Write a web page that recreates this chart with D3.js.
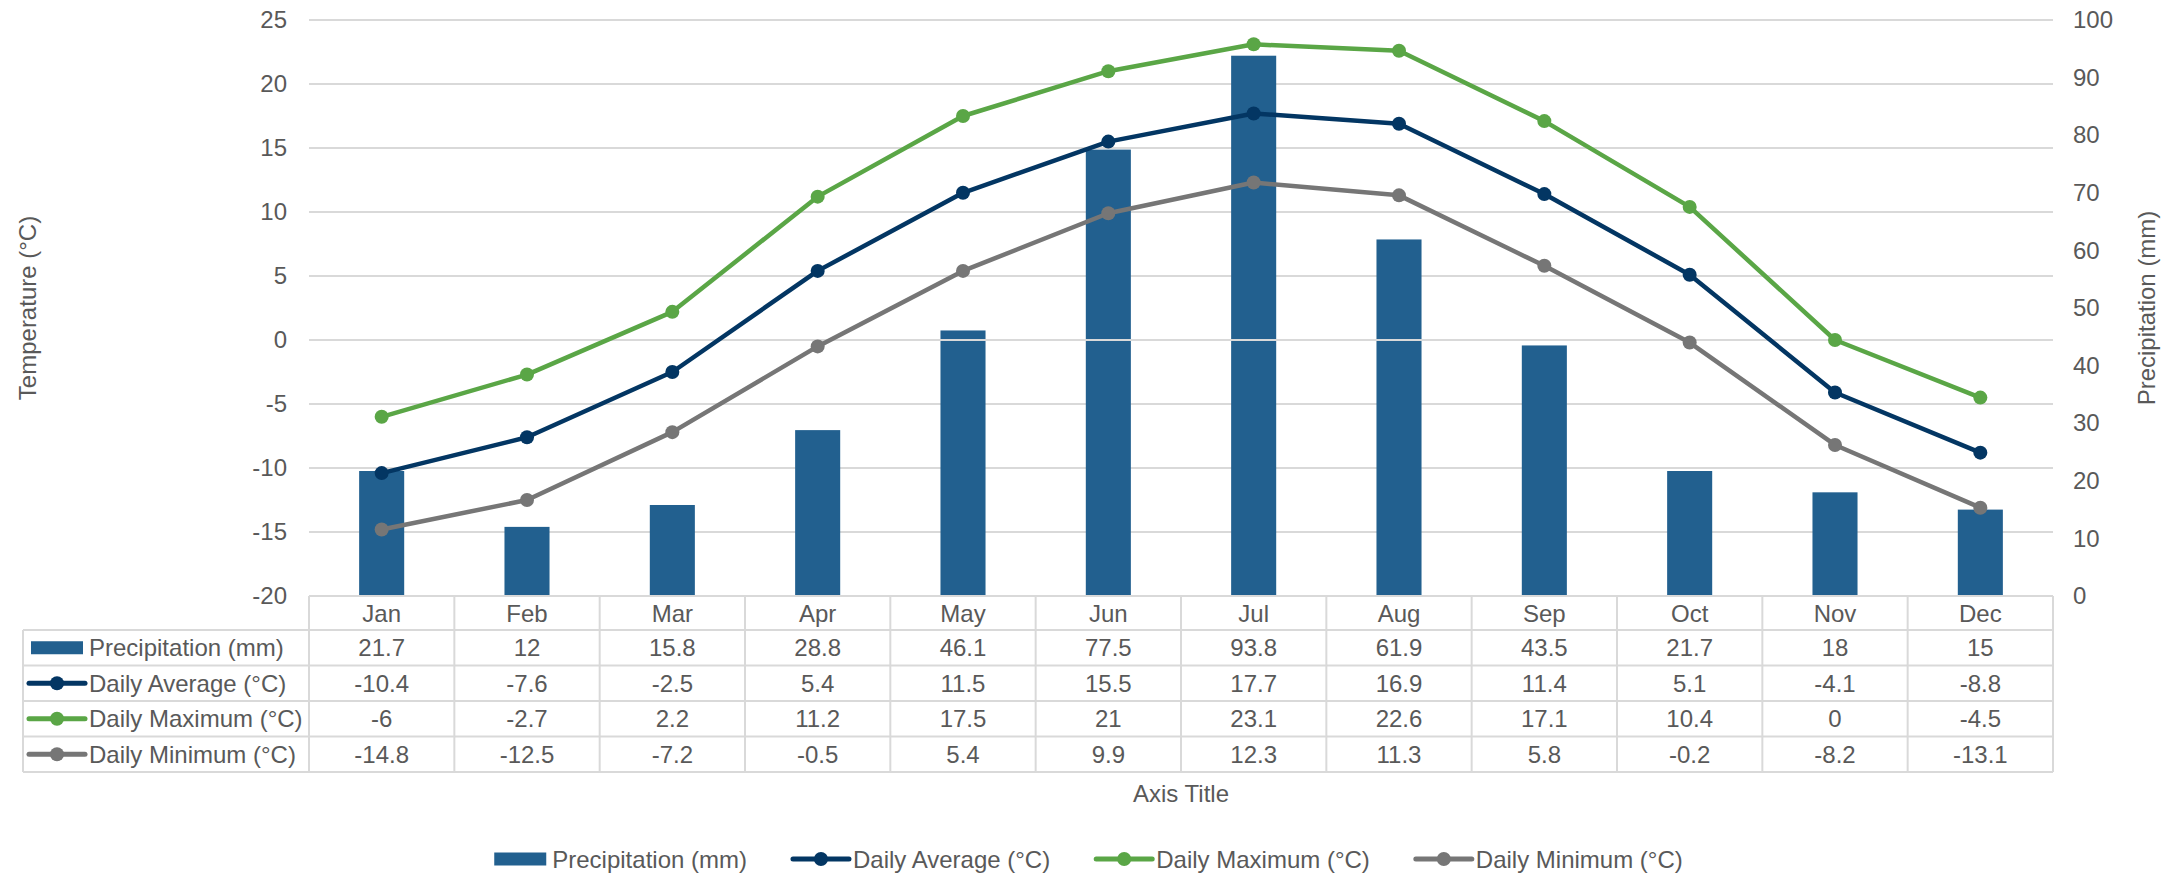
<!DOCTYPE html>
<html>
<head>
<meta charset="utf-8">
<script src="https://cdn.jsdelivr.net/npm/d3@7/dist/d3.min.js"></script>
<style>
  html, body { margin: 0; padding: 0; background: #ffffff; }
  svg { display: block; font-family: "Liberation Sans", Arial, sans-serif; }
</style>
</head>
<body>
<svg id="chart" width="2175" height="876"></svg>
<script>
// Monthly climate data
const months = ["Jan", "Feb", "Mar", "Apr", "May", "Jun", "Jul", "Aug", "Sep", "Oct", "Nov", "Dec"];
const precipitation = [21.7, 12, 15.8, 28.8, 46.1, 77.5, 93.8, 61.9, 43.5, 21.7, 18, 15];
const dailyAverage = [-10.4, -7.6, -2.5, 5.4, 11.5, 15.5, 17.7, 16.9, 11.4, 5.1, -4.1, -8.8];
const dailyMaximum = [-6, -2.7, 2.2, 11.2, 17.5, 21, 23.1, 22.6, 17.1, 10.4, 0, -4.5];
const dailyMinimum = [-14.8, -12.5, -7.2, -0.5, 5.4, 9.9, 12.3, 11.3, 5.8, -0.2, -8.2, -13.1];
const tempTicks = [-20, -15, -10, -5, 0, 5, 10, 15, 20, 25];
const precTicks = [0, 10, 20, 30, 40, 50, 60, 70, 80, 90, 100];

const seriesInfo = [
  { name: "Precipitation (mm)", type: "bar", color: "#22608f", values: precipitation },
  { name: "Daily Average (°C)", type: "line", color: "#033663", values: dailyAverage },
  { name: "Daily Maximum (°C)", type: "line", color: "#5aa646", values: dailyMaximum },
  { name: "Daily Minimum (°C)", type: "line", color: "#767676", values: dailyMinimum }
];

const TEXT = "#595959";
const GRID = "#d9d9d9";
const FS = 24;
const plain = d => String(d); // hyphen-minus, as in the table

const svg = d3.select("#chart");
const plot = { left: 309, right: 2053, top: 20, bottom: 596 };

const x = d3.scaleBand().domain(months).range([plot.left, plot.right]).paddingInner(0).paddingOuter(0);
const yT = d3.scaleLinear().domain([-20, 25]).range([plot.bottom, plot.top]);
const yP = d3.scaleLinear().domain([0, 100]).range([plot.bottom, plot.top]);
const cx = m => x(m) + x.bandwidth() / 2;

// Horizontal gridlines
svg.append("g").selectAll("line")
  .data(tempTicks.filter(t => t !== -20))
  .join("line")
  .attr("x1", plot.left).attr("x2", plot.right)
  .attr("y1", d => yT(d)).attr("y2", d => yT(d))
  .attr("stroke", GRID).attr("stroke-width", 2);

// Left (temperature) axis
const leftAxis = svg.append("g")
  .attr("transform", `translate(${plot.left},0)`)
  .call(d3.axisLeft(yT).tickValues(tempTicks).tickFormat(plain).tickSize(0).tickPadding(22));
leftAxis.select(".domain").remove();
leftAxis.selectAll("text").attr("fill", TEXT).attr("font-size", FS).attr("font-family", null);

// Right (precipitation) axis
const rightAxis = svg.append("g")
  .attr("transform", `translate(${plot.right},0)`)
  .call(d3.axisRight(yP).tickValues(precTicks).tickFormat(plain).tickSize(0).tickPadding(20));
rightAxis.select(".domain").remove();
rightAxis.selectAll("text").attr("fill", TEXT).attr("font-size", FS).attr("font-family", null);

// Axis titles
svg.append("text")
  .attr("transform", `translate(27,${(plot.top + plot.bottom) / 2}) rotate(-90)`)
  .attr("text-anchor", "middle").attr("dominant-baseline", "central")
  .attr("fill", TEXT).attr("font-size", FS).text("Temperature (°C)");
svg.append("text")
  .attr("transform", `translate(2146,${(plot.top + plot.bottom) / 2}) rotate(-90)`)
  .attr("text-anchor", "middle").attr("dominant-baseline", "central")
  .attr("fill", TEXT).attr("font-size", FS).text("Precipitation (mm)");

// Precipitation bars
const barW = x.bandwidth() * 0.31;
svg.append("g").selectAll("rect")
  .data(months.map((m, i) => ({ m, v: precipitation[i] })))
  .join("rect")
  .attr("x", d => cx(d.m) - barW / 2)
  .attr("width", barW)
  .attr("y", d => yP(d.v))
  .attr("height", d => yP(0) - yP(d.v))
  .attr("fill", seriesInfo[0].color);

// Category axis line at zero degrees
svg.append("line")
  .attr("x1", plot.left).attr("x2", plot.right)
  .attr("y1", yT(0)).attr("y2", yT(0))
  .attr("stroke", GRID).attr("stroke-width", 2);

// Temperature lines with markers
const line = d3.line().x(d => cx(d.m)).y(d => yT(d.v));
seriesInfo.filter(s => s.type === "line").forEach(s => {
  const pts = months.map((m, i) => ({ m, v: s.values[i] }));
  const g = svg.append("g");
  g.append("path").datum(pts)
    .attr("d", line).attr("fill", "none")
    .attr("stroke", s.color).attr("stroke-width", 4.5)
    .attr("stroke-linejoin", "round").attr("stroke-linecap", "round");
  g.selectAll("circle").data(pts).join("circle")
    .attr("cx", d => cx(d.m)).attr("cy", d => yT(d.v)).attr("r", 7)
    .attr("fill", s.color);
});

// Data table
const table = { left: 23, header: [596, 630], rowH: 35.5 };
const rowTop = i => table.header[1] + i * table.rowH;
const tg = svg.append("g");

// header cells
tg.append("line").attr("x1", plot.left).attr("x2", plot.right)
  .attr("y1", table.header[0]).attr("y2", table.header[0])
  .attr("stroke", GRID).attr("stroke-width", 2);
tg.selectAll("text.month").data(months).join("text")
  .attr("class", "month")
  .attr("x", d => cx(d)).attr("y", (table.header[0] + table.header[1]) / 2)
  .attr("text-anchor", "middle").attr("dominant-baseline", "central")
  .attr("fill", TEXT).attr("font-size", FS).text(d => d);

// horizontal rules of body rows
d3.range(seriesInfo.length + 1).forEach(i => {
  tg.append("line").attr("x1", table.left).attr("x2", plot.right)
    .attr("y1", rowTop(i)).attr("y2", rowTop(i))
    .attr("stroke", GRID).attr("stroke-width", 2);
});
// vertical rules
const bottomY = rowTop(seriesInfo.length);
tg.append("line").attr("x1", table.left).attr("x2", table.left)
  .attr("y1", rowTop(0)).attr("y2", bottomY).attr("stroke", GRID).attr("stroke-width", 2);
months.forEach(m => {
  tg.append("line").attr("x1", x(m)).attr("x2", x(m))
    .attr("y1", table.header[0]).attr("y2", bottomY).attr("stroke", GRID).attr("stroke-width", 2);
});
tg.append("line").attr("x1", plot.right).attr("x2", plot.right)
  .attr("y1", table.header[0]).attr("y2", bottomY).attr("stroke", GRID).attr("stroke-width", 2);

// legend keys drawn in a table row or the bottom legend
function drawKey(g, s, x0, yc) {
  if (s.type === "bar") {
    g.append("rect").attr("x", x0 + 2).attr("y", yc - 6.5).attr("width", 52).attr("height", 13).attr("fill", s.color);
  } else {
    g.append("line").attr("x1", x0).attr("x2", x0 + 56).attr("y1", yc).attr("y2", yc)
      .attr("stroke", s.color).attr("stroke-width", 5).attr("stroke-linecap", "round");
    g.append("circle").attr("cx", x0 + 28).attr("cy", yc).attr("r", 7).attr("fill", s.color);
  }
}

seriesInfo.forEach((s, i) => {
  const yc = rowTop(i) + table.rowH / 2;
  drawKey(tg, s, 29, yc);
  tg.append("text").attr("x", 89).attr("y", yc)
    .attr("dominant-baseline", "central").attr("fill", TEXT).attr("font-size", FS).text(s.name);
  tg.selectAll(null).data(months.map((m, j) => ({ m, v: s.values[j] }))).join("text")
    .attr("x", d => cx(d.m)).attr("y", yc)
    .attr("text-anchor", "middle").attr("dominant-baseline", "central")
    .attr("fill", TEXT).attr("font-size", FS).text(d => plain(d.v));
});

// Category axis title
svg.append("text").attr("x", (plot.left + plot.right) / 2).attr("y", 793)
  .attr("text-anchor", "middle").attr("dominant-baseline", "central")
  .attr("fill", TEXT).attr("font-size", FS).text("Axis Title");

// Bottom legend, centred on the chart
const lg = svg.append("g");
const legendY = 859;
const keyW = 56, keyGap = 4, itemGap = 46;
const widths = seriesInfo.map(s => {
  const t = lg.append("text").attr("font-size", FS).text(s.name);
  const w = t.node().getComputedTextLength();
  t.remove();
  return w;
});
const total = d3.sum(widths) + seriesInfo.length * (keyW + keyGap) + (seriesInfo.length - 1) * itemGap;
let lx = 2175 / 2 - total / 2;
seriesInfo.forEach((s, i) => {
  drawKey(lg, s, lx, legendY);
  lg.append("text").attr("x", lx + keyW + keyGap).attr("y", legendY)
    .attr("dominant-baseline", "central").attr("fill", TEXT).attr("font-size", FS).text(s.name);
  lx += keyW + keyGap + widths[i] + itemGap;
});
</script>
</body>
</html>
